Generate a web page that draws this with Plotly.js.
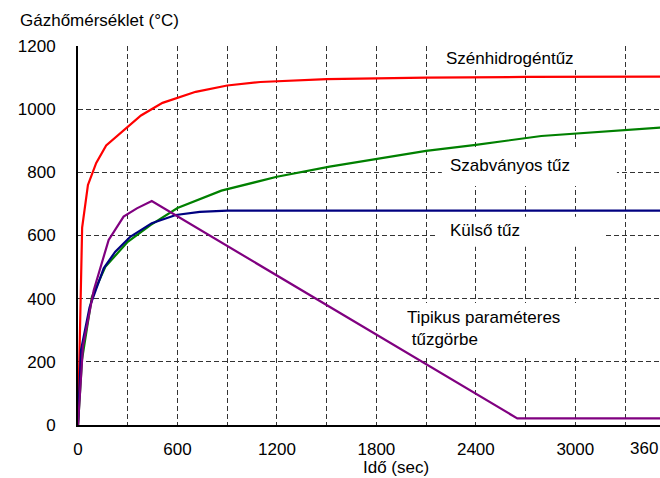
<!DOCTYPE html>
<html>
<head>
<meta charset="utf-8">
<script src="https://cdn.plot.ly/plotly-3.0.1.min.js"></script>
<style>html,body{margin:0;padding:0;overflow:hidden;background:#fff}#chart{width:660px;height:478px}</style>
</head>
<body>
<div id="chart"></div>
<script>
// Time in seconds, temperature in °C
const hydroT = [0, 25, 60, 110, 170, 300, 380, 510, 710, 900, 1100, 1500, 2100, 2700, 3600];
const hydroV = [0, 625, 760, 830, 885, 945, 980, 1020, 1055, 1075, 1086, 1095, 1100, 1102, 1103];

const standardT = [0, 24, 84, 165, 300, 437, 600, 865, 1200, 1518, 2100, 2400, 2795, 3600];
const standardV = [0, 206, 406, 501, 580, 633, 687, 742, 786, 818, 868, 887, 915, 945];

const externalT = [0, 18, 70, 155, 225, 315, 445, 590, 735, 900, 3600];
const externalV = [0, 237, 373, 496, 549, 596, 639, 665, 675, 679, 679];

const paramT = [0, 30, 95, 125, 185, 275, 355, 445, 2650, 3600];
const paramV = [0, 250, 427, 480, 586, 660, 686, 709, 21, 21];

const seriesNames = ["Szénhidrogéntűz", "Szabványos tűz", "Külső tűz", "Tipikus paraméteres<br>\u00a0tűzgörbe"];
const seriesColors = ["#ff0000", "#008000", "#000080", "#800080"];

const xTickVals = [0, 600, 1200, 1800, 2400, 3000];
const xTickText = ["0", "600", "1200", "1800", "2400", "3000"];
const xCutLabel = "360";
const yTickVals = [0, 200, 400, 600, 800, 1000, 1200];
const yGridVals = [200, 400, 600, 800, 1000];

const xTitle = "Idő (sec)";
const yTitle = "Gázhőmérséklet (°C)";

const FONT = "'Liberation Sans', Arial, sans-serif";
const GRID = "#333333";
const DASH = "5px,3px";

const xs = [hydroT, standardT, externalT, paramT];
const ys = [hydroV, standardV, externalV, paramV];

const traces = xs.map((x, i) => ({
  type: "scatter", mode: "lines", x: x, y: ys[i],
  line: {color: seriesColors[i], width: 2.2},
  hoverinfo: "skip", showlegend: false
}));
// empty helper trace so the grid-only overlay axis is drawn
traces.unshift({type: "scatter", mode: "lines", x: [null], y: [null], yaxis: "y2",
  hoverinfo: "skip", showlegend: false});

// label positions (data coordinates)
const labelPos = [
  {x: 2607, y: 1161, anchor: "center"},
  {x: 2604, y: 823, anchor: "center"},
  {x: 2453, y: 617, anchor: "center"},
  {x: 1971, y: 306, anchor: "left"}
];
// white boxes behind labels (data coordinates)
const labelBox = [
  {x0: 2122, x1: 3268, y0: 1130, y1: 1200},
  {x0: 2195, x1: 3251, y0: 757, y1: 871},
  {x0: 2171, x1: 3167, y0: 564, y1: 659},
  {x0: 1941, x1: 3087, y0: 215, y1: 386}
];

const annotations = seriesNames.map((t, i) => ({
  text: t, x: labelPos[i].x, y: labelPos[i].y, xref: "x", yref: "y",
  xanchor: labelPos[i].anchor, yanchor: "middle", align: "left",
  showarrow: false, font: {family: FONT, size: 17, color: "#000"}
}));
annotations.push({
  text: xTitle, x: 1917, y: -0.111, xref: "x", yref: "paper",
  xanchor: "center", yanchor: "middle", showarrow: false,
  font: {family: FONT, size: 17, color: "#000"}
});
annotations.push({
  text: xCutLabel, x: 1, y: -0.0607, xref: "paper", yref: "paper",
  xanchor: "right", yanchor: "middle", showarrow: false,
  font: {family: FONT, size: 17, color: "#000"}
});

const shapes = labelBox.map(b => ({
  type: "rect", xref: "x", yref: "y", x0: b.x0, x1: b.x1, y0: b.y0, y1: b.y1,
  fillcolor: "#ffffff", line: {width: 0}, layer: "between"
}));

const layout = {
  width: 660, height: 478,
  margin: {l: 78, r: 0, t: 46, b: 53},
  paper_bgcolor: "#ffffff", plot_bgcolor: "#ffffff",
  font: {family: FONT, size: 17, color: "#000"},
  title: {text: yTitle, x: 20 / 660, xanchor: "left", xref: "container",
          y: 1 - 20 / 478, yanchor: "middle", yref: "container",
          font: {family: FONT, size: 17, color: "#000"}},
  xaxis: {
    range: [0, 3511], tickmode: "array", tickvals: xTickVals, ticktext: xTickText,
    showgrid: true, gridcolor: GRID, griddash: DASH, gridwidth: 1,
    minor: {dtick: 300, tick0: 0, showgrid: true, gridcolor: GRID, griddash: DASH, gridwidth: 1},
    showline: true, linecolor: "#000", linewidth: 2, zeroline: false,
    ticks: "", ticklabelstandoff: 8, fixedrange: true,
    tickfont: {family: FONT, size: 17, color: "#000"}
  },
  yaxis: {
    range: [0, 1200], tickmode: "array", tickvals: yTickVals,
    showgrid: false, showline: true, linecolor: "#000", linewidth: 2, zeroline: false,
    ticks: "", ticklabelstandoff: 17, fixedrange: true,
    tickfont: {family: FONT, size: 17, color: "#000"}
  },
  yaxis2: {
    overlaying: "y", side: "left", range: [0, 1200], tickmode: "array", tickvals: yGridVals,
    showticklabels: false, showgrid: true, gridcolor: GRID, griddash: DASH, gridwidth: 1,
    showline: false, zeroline: false, ticks: "", fixedrange: true
  },
  shapes: shapes,
  annotations: annotations,
  showlegend: false
};

Plotly.newPlot("chart", traces, layout, {staticPlot: true, displayModeBar: false});
</script>
</body>
</html>
